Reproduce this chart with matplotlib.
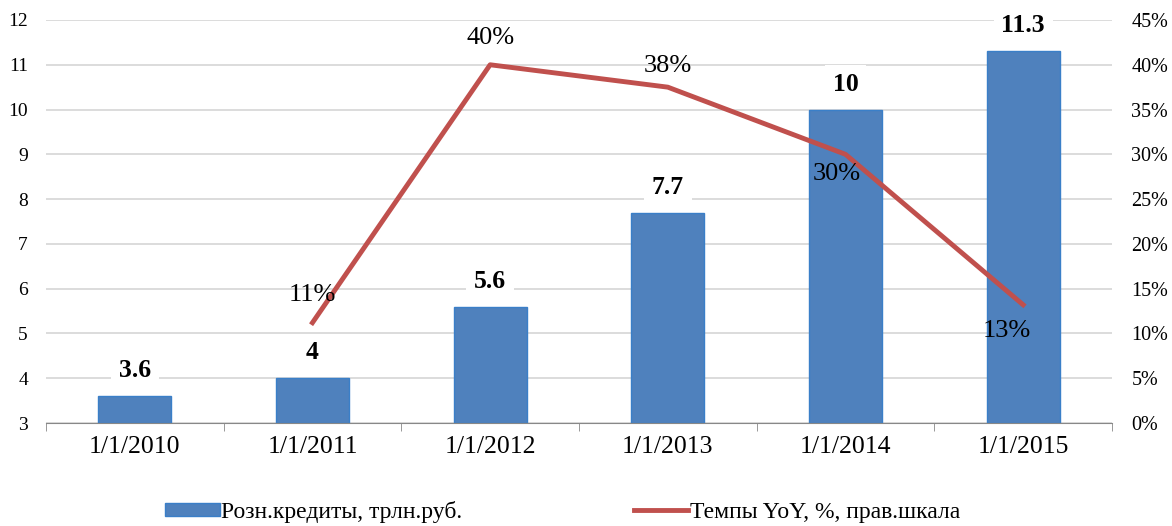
import numpy as np
import matplotlib.pyplot as plt
from matplotlib.ticker import FuncFormatter, MultipleLocator

plt.rcParams['font.family'] = ['Liberation Serif', 'DejaVu Serif']

dates = ['1/1/2010', '1/1/2011', '1/1/2012', '1/1/2013', '1/1/2014', '1/1/2015']
credits = [3.6, 4, 5.6, 7.7, 10, 11.3]
credit_labels = ['3.6', '4', '5.6', '7.7', '10', '11.3']
growth_dates = dates[1:]
growth = [11.2, 40, 37.5, 30, 13.2]
growth_labels = ['11%', '40%', '38%', '30%', '13%']

bar_col = '#4F81BD'
line_col = '#C0504D'

fig = plt.figure(figsize=(11.72, 5.26), dpi=100)
ax = fig.add_axes([0.0392, 0.1958, 0.9096, 0.7662])
x = np.arange(len(dates))
bars = ax.bar(x, [c - 3 for c in credits], bottom=3, width=0.41,
              color=bar_col, edgecolor='#3A7FC8', linewidth=1, zorder=2,
              label='Розн.кредиты, трлн.руб.')
ax.set_ylim(3, 12)
ax.set_xlim(-0.5, len(dates) - 0.5)
ax.yaxis.set_major_locator(MultipleLocator(1))
ax.grid(axis='y', color='#d9d9d9', linewidth=1.3, zorder=0)
ax.set_axisbelow(True)
for s in ['top', 'left', 'right']:
    ax.spines[s].set_visible(False)
ax.spines['bottom'].set_color('#888888')
ax.set_xticks(x)
ax.set_xticklabels(dates, fontsize=18.5)
ax.set_xticks(np.arange(-0.5, len(dates)), minor=True)
ax.tick_params(axis='x', which='major', length=0, pad=9)
ax.tick_params(axis='x', which='minor', length=6, color='#888888')
ax.tick_params(axis='y', length=0, labelsize=14, pad=13)

for xi, v, lab in zip(x, credits, credit_labels):
    ax.annotate(lab, (xi, v), xytext=(0, 10), textcoords='offset points',
                ha='center', va='bottom', fontsize=18.5, fontweight='bold',
                bbox=dict(boxstyle='square,pad=0.3', fc='white', ec='none'))

ax2 = ax.twinx()
xg = np.array([dates.index(d) for d in growth_dates])
ax2.plot(xg, growth, color=line_col, linewidth=3.5, solid_joinstyle='round',
         label='Темпы YoY, %, прав.шкала', zorder=3)
ax2.set_ylim(0, 45)
ax2.yaxis.set_major_locator(MultipleLocator(5))
ax2.yaxis.set_major_formatter(FuncFormatter(lambda v, p: f'{v:.0f}%'))
ax2.tick_params(axis='y', length=0, labelsize=14.5, pad=14)
for s in ['top', 'left', 'right', 'bottom']:
    ax2.spines[s].set_visible(False)

offsets = [(0, 12), (0, 11), (0, 7), (-6, -6), (-12, -11)]
valign = ['bottom', 'bottom', 'bottom', 'top', 'top']
for xi, v, lab, off, va in zip(xg, growth, growth_labels, offsets, valign):
    ax2.annotate(lab, (xi, v), xytext=off, textcoords='offset points',
                 ha='center', va=va, fontsize=19)

h1, l1 = ax.get_legend_handles_labels()
h2, l2 = ax2.get_legend_handles_labels()
fig.legend(h1 + h2, l1 + l2, loc='lower center', bbox_to_anchor=(0.48, -0.034),
           ncol=2, frameon=False, fontsize=17, columnspacing=7.3,
           handlelength=2.3, handletextpad=0.05, handleheight=0.5)

fig.savefig('out.png', dpi=100)
